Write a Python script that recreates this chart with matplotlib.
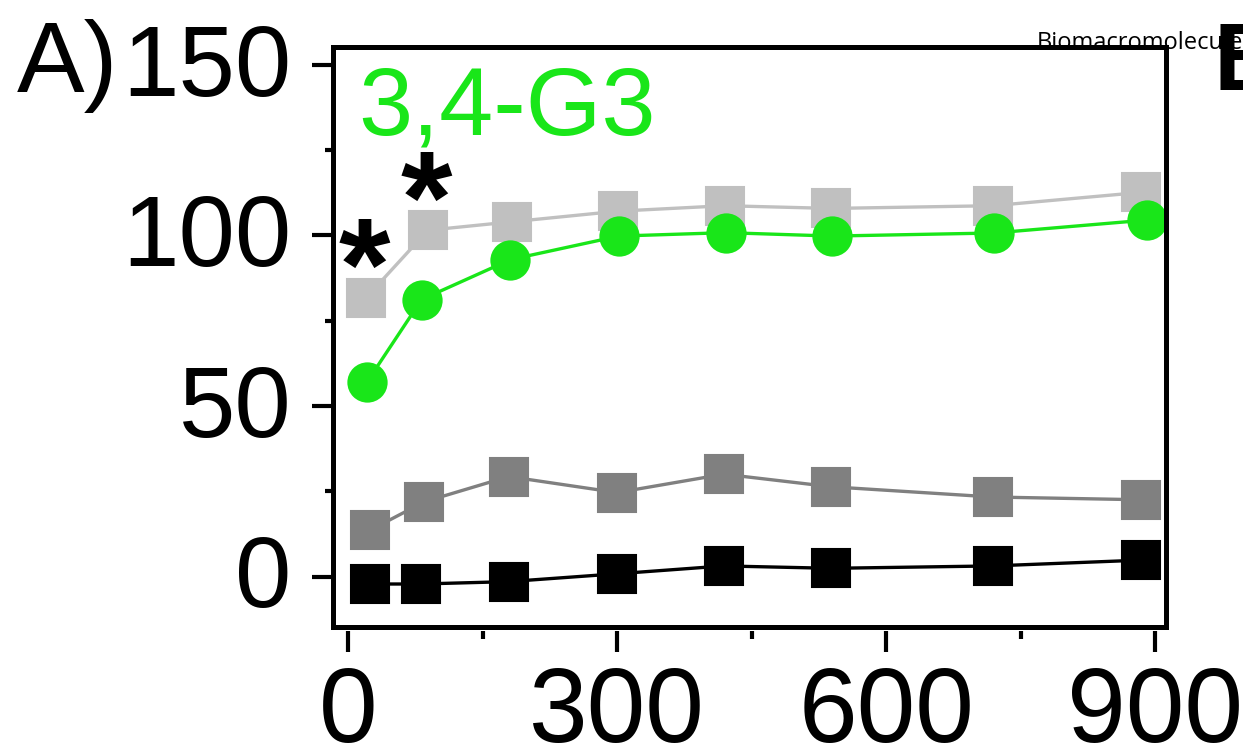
import matplotlib
matplotlib.use("Agg")
import matplotlib.pyplot as plt
import matplotlib.transforms as mtransforms
from matplotlib.patches import Rectangle
from matplotlib.ticker import MultipleLocator

plt.rcParams['font.family'] = ['Liberation Sans', 'DejaVu Sans']

# time points (as drawn) and responses for each series
xLight = [20, 89, 183, 301, 420, 539, 719, 884]
yLight = [81.7, 101.5, 104.0, 107.1, 108.7, 107.9, 108.7, 112.6]

xGreen = [21, 82, 181, 302, 421, 540, 720, 891]
yGreen = [57.0, 81.2, 92.9, 99.8, 100.8, 99.8, 100.7, 104.5]

xDark = [24, 85, 179, 300, 419, 539, 719, 884]
yDark = [13.5, 21.9, 29.3, 24.6, 30.0, 26.3, 23.3, 22.5]

xBlack = [24, 81, 179, 300, 419, 539, 719, 884]
yBlack = [-2.2, -2.2, -1.5, 0.8, 3.1, 2.4, 3.1, 4.8]

starIdx = [0, 1]  # light gray points marked significant

xTicks = [0, 300, 600, 900]
yTicks = [0, 50, 100, 150]

green = '#19E619'
lightGray = '#C0C0C0'
darkGray = '#808080'

fig = plt.figure(figsize=(12.43, 7.54), dpi=100)
ax = fig.add_axes([0.268, 0.168, 0.670, 0.770])

lineKw = dict(linewidth=2.4, solid_joinstyle='round')
ax.plot(xLight, yLight, color=lightGray, marker='s', markersize=27,
        markeredgewidth=1.5, markeredgecolor=lightGray, **lineKw)
ax.plot(xDark, yDark, color=darkGray, marker='s', markersize=27,
        markeredgewidth=1.5, markeredgecolor=darkGray, **lineKw)
ax.plot(xBlack, yBlack, color='black', marker='s', markersize=27,
        markeredgewidth=1.5, markeredgecolor='black', **lineKw)
ax.plot(xGreen, yGreen, color=green, marker='o', markersize=29,
        markeredgewidth=0, **lineKw)

for i in starIdx:
    ax.annotate('*', xy=(xLight[i], yLight[i]), xytext=(-1, -9),
                textcoords='offset points', ha='center', va='baseline',
                fontsize=95, fontweight='bold', color='black')

ax.set_xlim(-16.7, 912)
ax.set_ylim(-14.9, 155.3)
ax.set_xticks(xTicks)
ax.set_yticks(yTicks)
ax.xaxis.set_minor_locator(MultipleLocator(150))
ax.yaxis.set_minor_locator(MultipleLocator(25))

for s in ax.spines.values():
    s.set_visible(False)
ax.spines['bottom'].set_position(('outward', 3))
ax.add_patch(Rectangle((0, 0), 1, 1, transform=ax.transAxes, fill=False,
                       linewidth=3.6, edgecolor='black', clip_on=False,
                       zorder=5))

ax.tick_params(axis='both', which='major', length=15, width=3,
               direction='out')
ax.tick_params(axis='both', which='minor', length=6, width=3,
               direction='out')
ax.tick_params(axis='x', which='major', pad=9, labelsize=76)
ax.tick_params(axis='y', which='major', pad=15, labelsize=73)

# y labels sit slightly above their ticks in the original
shiftUp = mtransforms.ScaledTranslation(0, 4 / 72, fig.dpi_scale_trans)
for lab in ax.get_yticklabels():
    lab.set_transform(lab.get_transform() + shiftUp)

ax.text(0.030, 0.849, '3,4-G3', transform=ax.transAxes, fontsize=70,
        color=green, ha='left', va='baseline')

fig.text(17 / 1243, 1 - 92 / 754, 'A)', fontsize=73, ha='left',
         va='baseline')
fig.text(1214 / 1243, 1 - 90 / 754, 'B', fontsize=70, fontweight='bold',
         ha='left', va='baseline')
fig.text(1037 / 1243, 1 - 49 / 754, 'Biomacromolecules', fontsize=17,
         family=['Open Sans', 'DejaVu Sans'], ha='left', va='baseline',
         color='black')

fig.savefig('out.png', dpi=100)
